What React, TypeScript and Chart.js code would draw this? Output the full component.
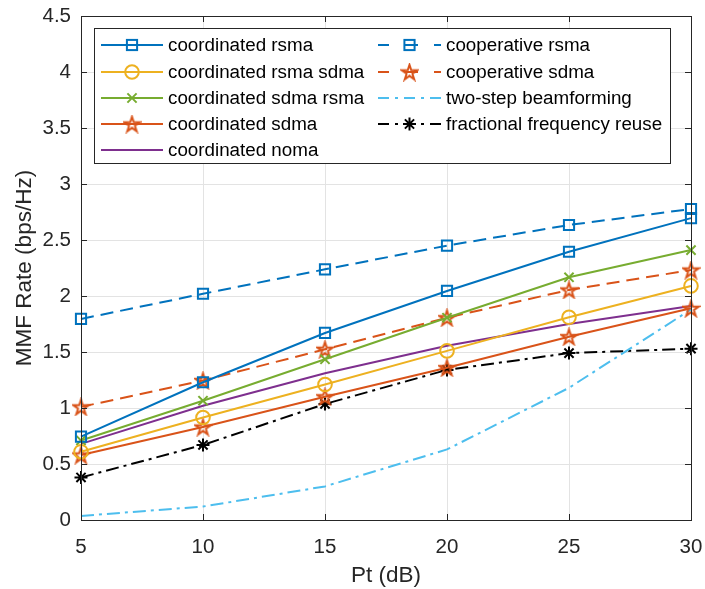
import React, { useEffect, useRef } from "react";
import { Chart, registerables } from "chart.js";
Chart.register(...registerables);

const ptDb = [5, 10, 15, 20, 25, 30];
const yTicks = [0, 0.5, 1, 1.5, 2, 2.5, 3, 3.5, 4, 4.5];
const coordRsma = [0.745, 1.23, 1.67, 2.045, 2.395, 2.695];
const coordRsmaSdma = [0.61, 0.915, 1.21, 1.51, 1.81, 2.09];
const coordSdmaRsma = [0.71, 1.065, 1.435, 1.806, 2.167, 2.41];
const coordSdma = [0.58, 0.83, 1.10, 1.36, 1.637, 1.89];
const coordNoma = [0.68, 1.02, 1.31, 1.556, 1.75, 1.91];
const coopRsma = [1.795, 2.02, 2.238, 2.45, 2.634, 2.777];
const coopSdma = [1.01, 1.245, 1.524, 1.806, 2.054, 2.232];
const twoStep = [0.036, 0.12, 0.30, 0.63, 1.18, 1.88];
const ffr = [0.38, 0.67, 1.036, 1.34, 1.49, 1.53];

const BLUE = "#0072BD";
const YELLOW = "#EDB120";
const GREEN = "#77AC30";
const ORANGE = "#D95319";
const PURPLE = "#7E2F8E";
const CYAN = "#4DBEEE";
const BLACK = "#000000";
const FONT = "'Liberation Sans', Arial, Helvetica, sans-serif";
const AXIS = "#262626";

function makePentagram(color: string, size: number) {
  const c = document.createElement("canvas");
  c.width = size;
  c.height = size;
  const ctx = c.getContext("2d")!;
  const cx = size / 2;
  const cy = size / 2 + 0.8;
  const R = size / 2 - 1.5;
  const r = R * 0.382;
  ctx.beginPath();
  for (let i = 0; i < 10; i++) {
    const ang = -Math.PI / 2 + (i * Math.PI) / 5;
    const rad = i % 2 === 0 ? R : r;
    const x = cx + rad * Math.cos(ang);
    const y = cy + rad * Math.sin(ang);
    if (i === 0) ctx.moveTo(x, y);
    else ctx.lineTo(x, y);
  }
  ctx.closePath();
  ctx.strokeStyle = color;
  ctx.lineWidth = 2;
  ctx.lineJoin = "miter";
  ctx.stroke();
  return c;
}

type Series = {
  label: string;
  data: number[];
  color: string;
  dash: number[];
  marker: string | null;
  radius: number;
};

const DASH = [13, 7];
const DASHDOT = [13, 5, 3, 5];

const seriesList: Series[] = [
  { label: "coordinated rsma", data: coordRsma, color: BLUE, dash: [], marker: "rect", radius: 7.2 },
  { label: "coordinated rsma sdma", data: coordRsmaSdma, color: YELLOW, dash: [], marker: "circle", radius: 6.8 },
  { label: "coordinated sdma rsma", data: coordSdmaRsma, color: GREEN, dash: [], marker: "crossRot", radius: 6.5 },
  { label: "coordinated sdma", data: coordSdma, color: ORANGE, dash: [], marker: "pentagram", radius: 9 },
  { label: "coordinated noma", data: coordNoma, color: PURPLE, dash: [], marker: null, radius: 0 },
  { label: "cooperative rsma", data: coopRsma, color: BLUE, dash: DASH, marker: "rect", radius: 7.2 },
  { label: "cooperative sdma", data: coopSdma, color: ORANGE, dash: DASH, marker: "pentagram", radius: 9 },
  { label: "two-step beamforming", data: twoStep, color: CYAN, dash: DASHDOT, marker: null, radius: 0 },
  { label: "fractional frequency reuse", data: ffr, color: BLACK, dash: DASHDOT, marker: "star", radius: 6.5 },
];

export default function App() {
  const ref = useRef<HTMLCanvasElement | null>(null);
  useEffect(() => {
    if (!ref.current) return;
    const star = makePentagram(ORANGE, 19);

    const datasets = seriesList.map((s) => ({
      label: s.label,
      data: s.data.map((v, i) => ({ x: ptDb[i], y: v })),
      borderColor: s.color,
      backgroundColor: "rgba(0,0,0,0)",
      borderWidth: 2,
      borderDash: s.dash,
      pointStyle: s.marker === "pentagram" ? star : s.marker || "circle",
      pointRadius: s.marker ? s.radius : 0,
      pointBorderColor: s.color,
      pointBackgroundColor: "rgba(0,0,0,0)",
      pointBorderWidth: 2,
      tension: 0,
      clip: false as any,
    }));

    const boxPlugin = {
      id: "box",
      afterDatasetsDraw(chart: any) {
        const { ctx, chartArea: a, scales } = chart;
        ctx.save();
        ctx.strokeStyle = AXIS;
        ctx.lineWidth = 1;
        ctx.setLineDash([]);
        ctx.strokeRect(Math.round(a.left) + 0.5, Math.round(a.top) + 0.5, Math.round(a.right - a.left), Math.round(a.bottom - a.top));
        const tl = 6;
        ctx.beginPath();
        ptDb.forEach((v) => {
          const x = Math.round(scales.x.getPixelForValue(v)) + 0.5;
          ctx.moveTo(x, a.bottom);
          ctx.lineTo(x, a.bottom - tl);
          ctx.moveTo(x, a.top);
          ctx.lineTo(x, a.top + tl);
        });
        yTicks.forEach((v) => {
          const y = Math.round(scales.y.getPixelForValue(v)) + 0.5;
          ctx.moveTo(a.left, y);
          ctx.lineTo(a.left + tl, y);
          ctx.moveTo(a.right, y);
          ctx.lineTo(a.right - tl, y);
        });
        ctx.stroke();
        ctx.restore();
      },
    };

    const drawMarker = (ctx: CanvasRenderingContext2D, s: Series, x: number, y: number) => {
      if (!s.marker) return;
      ctx.save();
      ctx.setLineDash([]);
      ctx.strokeStyle = s.color;
      ctx.lineWidth = 2;
      if (s.marker === "pentagram") {
        ctx.drawImage(star, x - star.width / 2, y - star.height / 2);
      } else if (s.marker === "rect") {
        const h = s.radius * Math.SQRT1_2;
        ctx.strokeRect(x - h, y - h, 2 * h, 2 * h);
      } else if (s.marker === "circle") {
        ctx.beginPath();
        ctx.arc(x, y, s.radius, 0, Math.PI * 2);
        ctx.stroke();
      } else if (s.marker === "crossRot") {
        const h = s.radius * Math.SQRT1_2;
        ctx.beginPath();
        ctx.moveTo(x - h, y - h);
        ctx.lineTo(x + h, y + h);
        ctx.moveTo(x - h, y + h);
        ctx.lineTo(x + h, y - h);
        ctx.stroke();
      } else if (s.marker === "star") {
        const h = s.radius * Math.SQRT1_2;
        ctx.beginPath();
        ctx.moveTo(x - h, y - h);
        ctx.lineTo(x + h, y + h);
        ctx.moveTo(x - h, y + h);
        ctx.lineTo(x + h, y - h);
        ctx.moveTo(x - s.radius, y);
        ctx.lineTo(x + s.radius, y);
        ctx.moveTo(x, y - s.radius);
        ctx.lineTo(x, y + s.radius);
        ctx.stroke();
      }
      ctx.restore();
    };

    const legendPlugin = {
      id: "mlegend",
      afterDraw(chart: any) {
        const ctx: CanvasRenderingContext2D = chart.ctx;
        ctx.save();
        const bx = 94.5, by = 28.5, bw = 576, bh = 135;
        ctx.fillStyle = "#fff";
        ctx.fillRect(bx, by, bw, bh);
        ctx.strokeStyle = AXIS;
        ctx.lineWidth = 1;
        ctx.strokeRect(bx, by, bw, bh);
        const rows = [45, 72, 98, 124, 150];
        const cols = [
          { x1: 101, x2: 163, tx: 168 },
          { x1: 378, x2: 441, tx: 446 },
        ];
        ctx.font = `18.8px ${FONT}`;
        ctx.textBaseline = "middle";
        ctx.textAlign = "left";
        seriesList.forEach((s, i) => {
          const col = cols[i < 5 ? 0 : 1];
          const y = rows[i < 5 ? i : i - 5];
          ctx.beginPath();
          ctx.setLineDash(s.dash.length === 2 ? [13, 16] : s.dash.length ? [11, 6, 3, 6] : []);
          ctx.lineDashOffset = s.dash.length === 2 ? 2 : 0;
          ctx.strokeStyle = s.color;
          ctx.lineWidth = 2;
          ctx.moveTo(col.x1, y);
          ctx.lineTo(col.x2, y);
          ctx.stroke();
          ctx.lineDashOffset = 0;
          drawMarker(ctx, s, (col.x1 + col.x2) / 2, y);
          ctx.setLineDash([]);
          ctx.fillStyle = "#000";
          ctx.fillText(s.label, col.tx, y + 1);
        });
        ctx.restore();
      },
    };

    const chart = new Chart(ref.current, {
      type: "line",
      data: { datasets: datasets as any },
      plugins: [boxPlugin, legendPlugin],
      options: {
        animation: false,
        responsive: false,
        layout: { padding: { left: 0, top: 16, right: 14, bottom: 0 } },
        plugins: { legend: { display: false }, tooltip: { enabled: false } },
        scales: {
          x: {
            type: "linear",
            min: 5,
            max: 30,
            ticks: { stepSize: 5, color: AXIS, font: { family: FONT, size: 20.5 }, padding: 15, callback: (v: any) => String(v) },
            grid: { color: "#e3e3e3", drawTicks: false, lineWidth: 1 },
            border: { display: false },
            title: { display: true, text: "Pt (dB)", color: AXIS, font: { family: FONT, size: 22.5 }, padding: { top: 0, bottom: 0 } },
            afterFit: (s: any) => { s.height = 69; s.paddingLeft = 0; s.paddingRight = 0; },
          },
          y: {
            type: "linear",
            min: 0,
            max: 4.5,
            ticks: { stepSize: 0.5, color: AXIS, font: { family: FONT, size: 20.5 }, padding: 10, callback: (v: any) => String(v) },
            grid: { color: "#e3e3e3", drawTicks: false, lineWidth: 1 },
            border: { display: false },
            title: { display: true, text: "MMF Rate (bps/Hz)", color: AXIS, font: { family: FONT, size: 22.5 }, padding: { top: 11.5, bottom: 0 } },
            afterFit: (s: any) => { s.width = 81; s.paddingTop = 0; s.paddingBottom = 0; },
          },
        },
      } as any,
    });
    return () => chart.destroy();
  }, []);

  return (
    <div style={{ position: "fixed", left: 0, top: 0, width: 705, height: 589, background: "#fff" }}>
      <canvas ref={ref} width={705} height={589} />
    </div>
  );
}
